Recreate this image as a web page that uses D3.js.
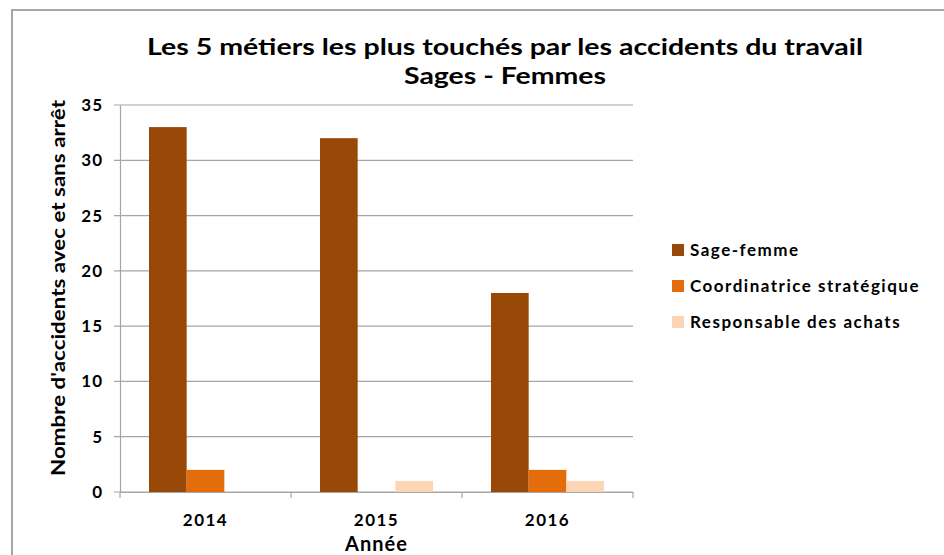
<!DOCTYPE html>
<html>
<head>
<meta charset="utf-8">
<script src="https://cdn.jsdelivr.net/npm/d3@7"></script>
<style>
  body { margin: 0; background: #fff; }
  text { font-family: Lato, "Open Sans", sans-serif; font-weight: bold; fill: #000; }
</style>
</head>
<body>
<div id="container"></div>
<script>
const years = ["2014", "2015", "2016"];
const series = ["Sage-femme", "Coordinatrice stratégique", "Responsable des achats"];
const sageFemme = [33, 32, 18];
const coordinatrice = [2, 0, 2];
const responsable = [0, 1, 1];
const yTicks = [0, 5, 10, 15, 20, 25, 30, 35];
const colors = ["#984807", "#E46C0A", "#FCD5B5"];

const values = [sageFemme, coordinatrice, responsable];
const rows = years.map((y, i) => ({ year: y, vals: series.map((s, j) => ({ key: s, value: values[j][i] })) }));

const W = 944, H = 555;
const margin = { top: 105, left: 120, right: 311, bottom: 63 };
const width = W - margin.left - margin.right;
const height = H - margin.top - margin.bottom;

const svg = d3.select("#container").append("svg")
    .attr("width", W)
    .attr("height", H);

// chart frame (only top and left visible)
svg.append("path")
    .attr("d", `M12,${H} L12,10 L${W},10`)
    .attr("fill", "none")
    .attr("stroke", "#a6a6a6")
    .attr("stroke-width", 2);

svg.append("text")
    .attr("x", 505).attr("y", 55)
    .attr("text-anchor", "middle")
    .attr("textLength", 716).attr("lengthAdjust", "spacingAndGlyphs")
    .style("font-size", "23px")
    .text("Les 5 métiers les plus touchés par les accidents du travail");

svg.append("text")
    .attr("x", 505).attr("y", 84)
    .attr("text-anchor", "middle")
    .attr("textLength", 202).attr("lengthAdjust", "spacingAndGlyphs")
    .style("font-size", "23px")
    .text("Sages - Femmes");

const g = svg.append("g")
    .attr("transform", `translate(${margin.left},${margin.top})`);

const x0 = d3.scaleBand()
    .domain(years)
    .range([0, width])
    .paddingInner(0)
    .paddingOuter(0);

const x1 = d3.scaleBand()
    .domain(series)
    .range([29, x0.bandwidth() - 29]);

const y = d3.scaleLinear()
    .domain([0, 35])
    .range([height, 0]);

// gridlines
g.selectAll(".grid")
    .data(yTicks)
    .enter().append("line")
    .attr("x1", -6).attr("x2", width)
    .attr("y1", d => y(d)).attr("y2", d => y(d))
    .attr("stroke", "#a6a6a6")
    .attr("stroke-width", 1.2);

// y axis
const yAxis = g.append("g")
    .call(d3.axisLeft(y).tickValues(yTicks).tickSize(0).tickPadding(17));
yAxis.select(".domain").attr("stroke", "#a6a6a6").attr("stroke-width", 1.2);
yAxis.selectAll("text")
    .style("font-size", "17px")
    .style("letter-spacing", "1px")
    .style("font-family", "Lato, sans-serif");

// x axis
const xAxis = g.append("g")
    .attr("transform", `translate(0,${height})`)
    .call(d3.axisBottom(x0).tickSize(0).tickPadding(22));
xAxis.select(".domain").attr("stroke", "#a6a6a6").attr("stroke-width", 1.2);
xAxis.selectAll("text")
    .style("font-size", "17px")
    .style("letter-spacing", "1.5px")
    .style("font-family", "Lato, sans-serif");
xAxis.selectAll(".sep")
    .data(d3.range(years.length + 1))
    .enter().append("line")
    .attr("x1", d => d * x0.bandwidth()).attr("x2", d => d * x0.bandwidth())
    .attr("y1", 0).attr("y2", 6)
    .attr("stroke", "#a6a6a6")
    .attr("stroke-width", 1.2);

// bars
g.selectAll(".group")
    .data(rows)
    .enter().append("g")
    .attr("transform", d => `translate(${x0(d.year)},0)`)
    .selectAll("rect")
    .data(d => d.vals.filter(v => v.value > 0))
    .enter().append("rect")
    .attr("x", d => x1(d.key))
    .attr("width", x1.bandwidth())
    .attr("y", d => y(d.value))
    .attr("height", d => height - y(d.value))
    .attr("fill", (d) => colors[series.indexOf(d.key)]);

// axis titles
svg.append("text")
    .attr("x", margin.left + width / 2).attr("y", 551)
    .attr("text-anchor", "middle")
    .style("font-size", "20px")
    .style("letter-spacing", "1px")
    .text("Année");

svg.append("text")
    .attr("transform", `translate(65,288) rotate(-90)`)
    .attr("text-anchor", "middle")
    .attr("textLength", 376).attr("lengthAdjust", "spacingAndGlyphs")
    .style("font-size", "19px")
    .text("Nombre d'accidents avec  et sans arrêt");

// legend
const legend = svg.append("g")
    .attr("transform", "translate(672,244)");
const items = legend.selectAll(".item")
    .data(series)
    .enter().append("g")
    .attr("transform", (d, i) => `translate(0,${i * 36})`);
items.append("rect")
    .attr("width", 12).attr("height", 12)
    .attr("fill", (d, i) => colors[i]);
items.append("text")
    .attr("x", 18).attr("y", 12)
    .style("font-size", "17px")
    .style("letter-spacing", "1.5px")
    .text(d => d);
</script>
</body>
</html>
